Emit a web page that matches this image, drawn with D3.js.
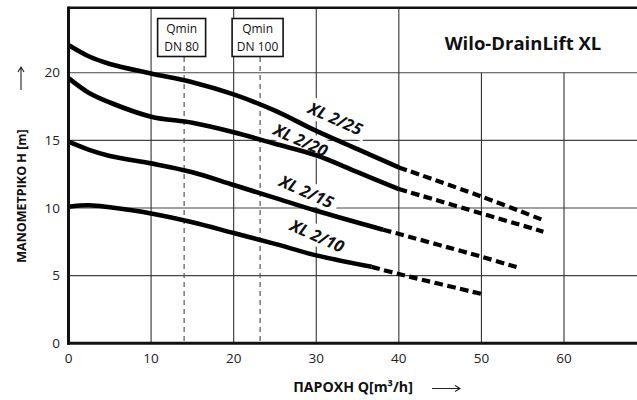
<!DOCTYPE html>
<html><head><meta charset="utf-8">
<script src="https://cdn.jsdelivr.net/npm/d3@7"></script>
<style>
html,body{margin:0;padding:0;background:#fff;}
svg{display:block;font-family:"Open Sans","Noto Sans",sans-serif;}
</style></head>
<body>
<svg id="c" width="637" height="400"></svg>
<script>
// ---- data ----
const xTicks = [0, 10, 20, 30, 40, 50, 60];
const yTicks = [0, 5, 10, 15, 20];
const seriesNames = ["XL 2/25", "XL 2/20", "XL 2/15", "XL 2/10"];
// solid (measured) parts
const q25 = [0, 2.5, 5, 10, 15, 20, 25, 30, 35, 40];
const h25 = [22.05, 21.2, 20.65, 19.95, 19.3, 18.4, 17.2, 15.7, 14.35, 13.0];
const q20 = [0, 2.5, 5, 10, 15, 20, 25, 30, 35, 40];
const h20 = [19.6, 18.5, 17.8, 16.75, 16.3, 15.6, 14.75, 13.9, 12.65, 11.4];
const q15 = [0, 2.5, 5, 10, 15, 20, 25, 30, 38.1];
const h15 = [14.9, 14.3, 13.85, 13.3, 12.65, 11.7, 10.75, 9.8, 8.4];
const q10 = [0, 2.5, 5, 10, 15, 20, 25, 30, 36.7];
const h10 = [10.1, 10.2, 10.05, 9.6, 8.95, 8.15, 7.35, 6.5, 5.65];
// dashed (extended) parts
const q25d = [40, 50, 57.5];
const h25d = [13.0, 10.85, 9.1];
const q20d = [40, 50, 57.5];
const h20d = [11.4, 9.6, 8.25];
const q15d = [38.1, 50, 54.7];
const h15d = [8.4, 6.4, 5.55];
const q10d = [36.7, 40, 50];
const h10d = [5.65, 5.12, 3.65];
const qminValues = [14, 23.2];
const qminLabels = [["Qmin", "DN 80"], ["Qmin", "DN 100"]];
const title = "Wilo-DrainLift XL";
const yLabel = "ΜΑΝΟΜΕΤΡΙΚΟ H [m]";
const xLabel = "ΠΑΡΟΧΗ Q[m³/h]";

// ---- layout ----
const svg = d3.select("#c");
const x = d3.scaleLinear().domain([0, 70]).range([68.5, 646.6]);
const y = d3.scaleLinear().domain([0, 24.8]).range([343.3, 7.8]);
const X0 = x(0), Y0 = y(0), YT = y.range()[1], XR = 640;

const zip = (a, b) => a.map((v, i) => [v, b[i]]);
const solid = [zip(q25, h25), zip(q20, h20), zip(q15, h15), zip(q10, h10)];
const dashed = [zip(q25d, h25d), zip(q20d, h20d), zip(q15d, h15d), zip(q10d, h10d)];

// grid
const g = svg.append("g");
yTicks.filter(t => t > 0).forEach(t => {
  g.append("line").attr("x1", X0).attr("x2", XR).attr("y1", y(t)).attr("y2", y(t))
    .attr("stroke", "#444").attr("stroke-width", 1.1);
});
xTicks.filter(t => t > 0).forEach(t => {
  const top = t > 40 ? y(20) : YT;
  g.append("line").attr("x1", x(t)).attr("x2", x(t)).attr("y1", top).attr("y2", Y0)
    .attr("stroke", "#333").attr("stroke-width", 1.1);
});

// Qmin dashed lines and boxes
qminValues.forEach((q, i) => {
  g.append("line").attr("x1", x(q)).attr("x2", x(q)).attr("y1", 57).attr("y2", Y0)
    .attr("stroke", "#555").attr("stroke-width", 1.2).attr("stroke-dasharray", "5,4");
  const bw = i === 0 ? 48 : 51;
  const cx = x(q) - 2.5;
  g.append("rect").attr("x", cx - bw / 2).attr("y", 18.5).attr("width", bw).attr("height", 38)
    .attr("fill", "#fff").attr("stroke", "#111").attr("stroke-width", 1.6);
  qminLabels[i].forEach((s, k) => {
    g.append("text").attr("x", cx).attr("y", 33 + k * 18).attr("text-anchor", "middle")
      .attr("font-size", 12).attr("fill", "#111").text(s);
  });
});

// title
svg.append("text").attr("x", 523).attr("y", 49.5).attr("text-anchor", "middle")
  .attr("font-size", 18.5).attr("font-weight", "bold").attr("fill", "#111").text(title);

// curve labels (white backing boxes)
const labelPos = [[32.3, 16.6], [28.1, 15.0], [28.8, 11.2], [30.1, 7.93]];
const labelRot = 24;
const labG = svg.append("g");
seriesNames.forEach((name, i) => {
  const [lq, lh] = labelPos[i];
  const gg = labG.append("g").attr("transform", `translate(${x(lq)},${y(lh)}) rotate(${labelRot})`);
  gg.append("rect").attr("x", -34).attr("y", -11).attr("width", 68).attr("height", 21).attr("fill", "#fff");
});

// curves
const line = d3.line().x(d => x(d[0])).y(d => y(d[1])).curve(d3.curveCatmullRom.alpha(0.5));
solid.forEach(s => {
  svg.append("path").attr("d", line(s)).attr("fill", "none").attr("stroke", "#000")
    .attr("stroke-width", 4.6).attr("stroke-linejoin", "round");
});
dashed.forEach(s => {
  svg.append("path").attr("d", line(s)).attr("fill", "none").attr("stroke", "#000")
    .attr("stroke-width", 4.2).attr("stroke-dasharray", "8.5,4.5");
});

seriesNames.forEach((name, i) => {
  const [lq, lh] = labelPos[i];
  svg.append("text").attr("transform", `translate(${x(lq)},${y(lh)}) rotate(${labelRot})`)
    .attr("text-anchor", "middle").attr("dy", "0.35em")
    .attr("font-size", 16.5).attr("font-weight", "bold").attr("font-style", "italic")
    .attr("fill", "#111").text(name);
});

// frame
svg.append("line").attr("x1", X0).attr("x2", XR).attr("y1", YT).attr("y2", YT)
  .attr("stroke", "#111").attr("stroke-width", 2.4);
svg.append("line").attr("x1", X0).attr("x2", X0).attr("y1", YT - 1.2).attr("y2", Y0 + 1.5)
  .attr("stroke", "#111").attr("stroke-width", 3);
svg.append("line").attr("x1", X0 - 1.5).attr("x2", XR).attr("y1", Y0).attr("y2", Y0)
  .attr("stroke", "#111").attr("stroke-width", 3);

// ticks labels
svg.append("g").selectAll("text").data(xTicks).join("text")
  .attr("x", d => x(d)).attr("y", 363).attr("text-anchor", "middle")
  .attr("font-size", 13.5).attr("fill", "#222").text(d => d);
svg.append("g").selectAll("text").data(yTicks).join("text")
  .attr("x", 60).attr("y", d => y(d)).attr("dy", "0.35em").attr("text-anchor", "end")
  .attr("font-size", 13.5).attr("fill", "#222").text(d => d);

// axis titles
svg.append("text").attr("transform", "translate(26,196) rotate(-90)")
  .attr("text-anchor", "middle").attr("font-size", 12.5).attr("font-weight", "bold")
  .attr("fill", "#111").text(yLabel);
svg.append("text").attr("x", 353).attr("y", 392).attr("text-anchor", "middle")
  .attr("font-size", 14.2).attr("font-weight", "bold").attr("fill", "#111").text(xLabel);

// arrows
const arr = svg.append("g").attr("stroke", "#222").attr("stroke-width", 1.1).attr("fill", "none");
arr.append("path").attr("d", "M21,90 L21,67 M18,72 L21,67 L24,72");
arr.append("path").attr("d", "M432,388.5 L460,388.5 M455,385.5 L460,388.5 L455,391.5");
</script>
</body></html>
